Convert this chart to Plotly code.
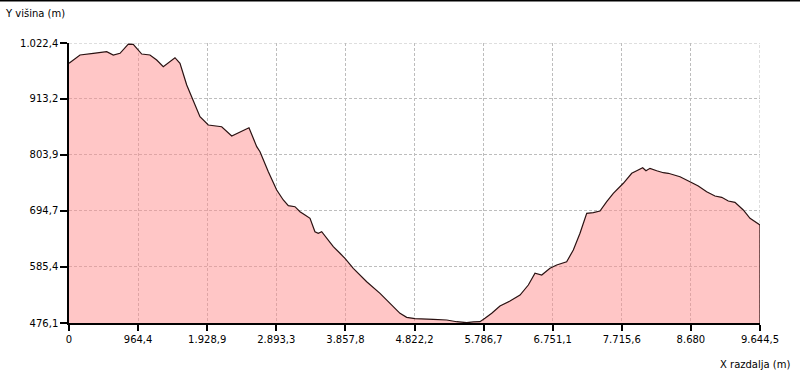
import plotly.graph_objects as go

# distance along the route (m)
distance = [0, 153.5, 339, 526, 618, 712, 828, 897, 1015, 1130, 1224, 1316, 1479, 1549, 1643,
            1735, 1828, 1944, 2131, 2271, 2387, 2512, 2620, 2666, 2782, 2899, 2991, 3061, 3154,
            3224, 3294, 3364, 3433, 3479, 3527, 3597, 3689, 3782, 3852, 3968, 4155, 4341, 4480,
            4620, 4713, 4829, 5085, 5272, 5411, 5551, 5643, 5736, 5806, 5900, 6015, 6155, 6295,
            6411, 6504, 6598, 6713, 6807, 6946, 7039, 7132, 7226, 7318, 7411, 7505, 7597, 7737,
            7854, 7924, 8007, 8053, 8109, 8203, 8295, 8365, 8412, 8528, 8667, 8783, 8900, 9016,
            9110, 9202, 9295, 9411, 9505, 9598, 9644.5]
# elevation (m)
elevation = [982.8, 999.0, 1002.3, 1005.4, 999.0, 1002.3, 1020.4, 1019.8, 1000.9, 999.0, 989.2,
             976.1, 993.7, 982.8, 940.4, 907.9, 878.6, 862.4, 859.1, 840.9, 848.2, 857.1, 820.1,
             810.3, 771.3, 735.6, 716.1, 705.0, 703.0, 693.2, 686.8, 680.4, 654.2, 651.1, 654.2,
             641.4, 625.0, 612.1, 602.3, 582.8, 556.7, 534.0, 514.5, 495.0, 487.2, 484.5, 483.3,
             482.0, 478.6, 476.7, 478.1, 478.6, 485.3, 495.0, 509.3, 519.0, 530.7, 550.2, 573.1,
             569.7, 582.8, 589.3, 595.7, 618.5, 651.1, 690.1, 691.3, 694.6, 712.8, 729.1, 748.7,
             768.2, 773.2, 779.1, 773.2, 777.9, 773.2, 769.3, 768.2, 766.2, 761.5, 751.8, 743.4,
             732.3, 723.9, 721.3, 714.1, 711.6, 696.6, 680.4, 671.8, 667.3]

x_ticks = [0, 964.4, 1928.9, 2893.3, 3857.8, 4822.2, 5786.7, 6751.1, 7715.6, 8680, 9644.5]
x_tick_labels = ["0", "964,4", "1.928,9", "2.893,3", "3.857,8", "4.822,2", "5.786,7",
                 "6.751,1", "7.715,6", "8.680", "9.644,5"]
y_ticks = [476.1, 585.4, 694.7, 803.9, 913.2, 1022.4]
y_tick_labels = ["476,1", "585,4", "694,7", "803,9", "913,2", "1.022,4"]

FONT = "DejaVu Sans"
GRID_COLOR = "#bdbdbd"
GRID_DASH = "3px,2px"
LINE_COLOR = "#2a1212"

fig = go.Figure()
fig.add_trace(go.Scatter(
    x=distance, y=elevation, mode="lines", fill="tozeroy",
    fillcolor="rgba(255,141,141,0.5)",
    line=dict(color=LINE_COLOR, width=1.2), hoverinfo="skip", showlegend=False))
# closing edge at the end of the profile
fig.add_trace(go.Scatter(
    x=[distance[-1], distance[-1]], y=[elevation[-1], y_ticks[0]], mode="lines",
    line=dict(color=LINE_COLOR, width=1.2), hoverinfo="skip", showlegend=False))

grid = dict(showgrid=True, gridcolor=GRID_COLOR, griddash=GRID_DASH, gridwidth=1)
fig.update_xaxes(range=[x_ticks[0], x_ticks[-1]], tickmode="array", tickvals=x_ticks,
                 ticktext=x_tick_labels, showline=True, linecolor="black", linewidth=1.5,
                 ticks="outside", ticklen=6, tickcolor="black", tickwidth=1.5,
                 zeroline=False, tickfont=dict(family=FONT, size=10, color="black"), **grid)
fig.update_yaxes(range=[y_ticks[0], y_ticks[-1]], tickmode="array", tickvals=y_ticks,
                 ticktext=y_tick_labels, showline=True, linecolor="black", linewidth=1.5,
                 ticks="outside", ticklen=7, tickcolor="black", tickwidth=1.5,
                 zeroline=False, tickfont=dict(family=FONT, size=10, color="black"), **grid)

# gridlines at the far edges (top and right), which plotly omits
edge_grid = [
    dict(type="line", xref="x", yref="paper", x0=x_ticks[-1], x1=x_ticks[-1], y0=0, y1=1,
         layer="below", line=dict(color=GRID_COLOR, width=1, dash=GRID_DASH)),
    dict(type="line", xref="paper", yref="y", x0=0, x1=1, y0=y_ticks[-1], y1=y_ticks[-1],
         layer="below", line=dict(color=GRID_COLOR, width=1, dash=GRID_DASH)),
]

fig.update_layout(
    width=800, height=374, margin=dict(l=69, r=40, t=43, b=51),
    paper_bgcolor="white", plot_bgcolor="white",
    font=dict(family=FONT, size=10, color="black"),
    annotations=[
        dict(text="Y višina (m)", xref="paper", yref="paper", x=-0.095, y=1.107,
             xanchor="left", yanchor="middle", showarrow=False,
             font=dict(family=FONT, size=10, color="black")),
        dict(text="X razdalja (m)", xref="paper", yref="paper", x=1.047, y=-0.147,
             xanchor="right", yanchor="middle", showarrow=False,
             font=dict(family=FONT, size=10, color="black")),
    ],
    shapes=edge_grid + [dict(type="line", xref="paper", yref="paper", x0=-0.11, x1=1.07,
                             y0=1.1518, y1=1.1518, line=dict(color="black", width=2))],
)
fig.write_html("out.html", config={"displayModeBar": False},
               post_script="document.body.style.margin='0';")
